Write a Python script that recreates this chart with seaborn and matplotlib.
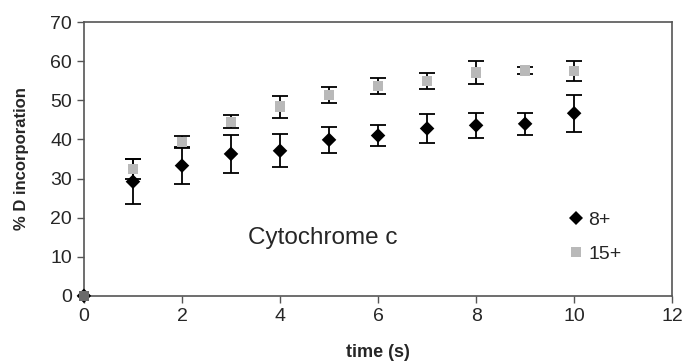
import matplotlib
matplotlib.use("Agg")
import matplotlib.pyplot as plt
import seaborn as sns
import pandas as pd
import numpy as np

time = [0, 1, 2, 3, 4, 5, 6, 7, 8, 9, 10]
d8 = [0, 29.2, 33.3, 36.3, 37.1, 39.9, 41.0, 42.8, 43.6, 44.0, 46.7]
e8 = [0, 5.8, 4.7, 4.9, 4.2, 3.4, 2.7, 3.6, 3.2, 2.8, 4.7]
d15 = [0, 32.4, 39.4, 44.5, 48.4, 51.4, 53.6, 55.0, 57.1, 57.6, 57.5]
e15 = [0, 2.6, 1.5, 1.7, 2.8, 2.1, 2.1, 2.1, 3.0, 0.8, 2.6]

sns.set_style("ticks")
plt.rcParams['font.family'] = ['Liberation Sans', 'DejaVu Sans']

df = pd.DataFrame({
    "time": time * 2,
    "D": d8 + d15,
    "charge": ["8+"] * len(time) + ["15+"] * len(time),
})

fig, ax = plt.subplots(figsize=(6.88, 3.63), dpi=100)
fig.subplots_adjust(left=0.122, right=0.977, top=0.939, bottom=0.185)

ax.errorbar(time[1:], d15[1:], yerr=e15[1:], fmt='none', ecolor='black',
            elinewidth=1.3, capsize=5.5, capthick=1.3, zorder=2)
ax.errorbar(time[1:], d8[1:], yerr=e8[1:], fmt='none', ecolor='black',
            elinewidth=1.3, capsize=5.5, capthick=1.3, zorder=2)

sns.scatterplot(data=df, x="time", y="D", hue="charge", style="charge",
                palette={"8+": "black", "15+": "#b9b9b9"},
                markers={"8+": "D", "15+": "s"},
                hue_order=["8+", "15+"], style_order=["8+", "15+"],
                s=55, linewidth=0, ax=ax, zorder=3, clip_on=False)
# point at origin appears as a dark grey overlap
ax.scatter([time[0]], [d15[0]], marker='s', s=45, color='#6a6a6a',
           linewidth=0, zorder=4, clip_on=False)

ax.set_xlim(0, 12)
ax.set_ylim(0, 70)
ax.set_xticks(range(0, 13, 2))
ax.set_yticks(range(0, 71, 10))
ax.tick_params(labelsize=14, length=5, color='#555555', width=1)
for sp in ax.spines.values():
    sp.set_visible(True)
    sp.set_color('#555555')
    sp.set_linewidth(1.2)

ax.set_xlabel("time (s)", fontsize=13, fontweight='bold', labelpad=14)
ax.set_ylabel("% D incorporation", fontsize=12, fontweight='bold', labelpad=15)

ax.text(4.88, 14.8, "Cytochrome c", fontsize=17.5, ha='center', va='center')

leg = ax.legend(title=None, frameon=False, loc='center left',
                bbox_to_anchor=(0.79, 0.215), fontsize=14, handletextpad=0.15,
                handlelength=1.0, labelspacing=0.85, markerscale=0.9)

fig.savefig("out.png", dpi=100)
